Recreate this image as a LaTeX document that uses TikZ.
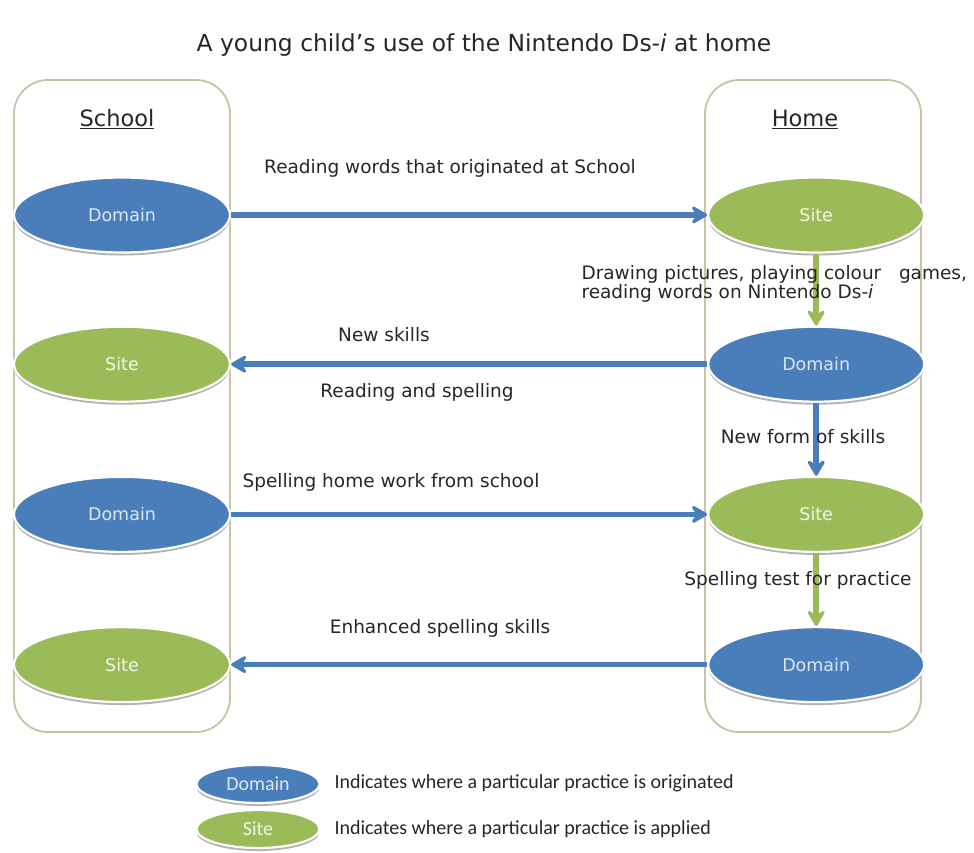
\documentclass[tikz,border=0pt]{standalone}
\usepackage{fontspec}
\setmainfont{DejaVu Sans}
\newfontfamily\legendfont{Carlito}
\usetikzlibrary{shapes.geometric, positioning, arrows.meta, shadows}
\definecolor{domainblue}{HTML}{4A7EBB}
\definecolor{sitegreen}{HTML}{9BBB59}
\definecolor{boxtan}{HTML}{C9C2A6}
\definecolor{textgray}{HTML}{262626}
\definecolor{domaintext}{HTML}{DCE6F2}
\definecolor{sitetext}{HTML}{F2F6E8}

\begin{document}
\begin{tikzpicture}[
            x=1pt, y=-1pt,
            node distance=72pt and 476pt,
            every node/.style={font=\fontsize{18.5}{17}\selectfont, text=textgray},
            % Estilos de los bloques
            place/.style={rectangle, rounded corners=34pt, minimum width=216pt, minimum height=652pt, draw=boxtan, line width=1.8pt},
            heading/.style={font=\fontsize{22.5}{26}\selectfont},
            domainnode/.style={ellipse, minimum width=216pt, minimum height=75pt, inner sep=0pt, draw=white, line width=2.2pt, fill=domainblue, text=domaintext, font=\fontsize{17.5}{20}\selectfont, drop shadow={shadow xshift=0pt, shadow yshift=-3pt, fill=black!30, opacity=1}},
            sitenode/.style={domainnode, fill=sitegreen, text=sitetext},
            keydomain/.style={domainnode, minimum width=123pt, minimum height=38pt, font=\legendfont\fontsize{20}{22}\selectfont},
            keysite/.style={keydomain, fill=sitegreen, text=sitetext},
            keytext/.style={anchor=west, font=\legendfont\fontsize{20}{22}\selectfont},
            barrow/.style={line width=5.5pt, draw=domainblue, -{Stealth[length=20pt, width=23pt, inset=8pt, round]}},
            garrow/.style={barrow, draw=sitegreen}
        ]
            \useasboundingbox (0,0) rectangle (974,852);

            % Titulo
            \node (title) [font=\fontsize{23.4}{26}\selectfont] at (484,45) {A young child's use of the Nintendo Ds-\textit{i} at home};

            % Columnas
            \node (school) [place] at (122,406) {};
            \node (home) [place] at (813,406) {};
            \node (schoolhead) [heading] at (117,119) {\underline{School}};
            \node (homehead) [heading] at (805,119) {\underline{Home}};

            % Elipses
            \node (sd1) [domainnode] at (122,215) {Domain};
            \node (ss2) [sitenode, below=of sd1] {Site};
            \node (sd3) [domainnode, below=73pt of ss2] {Domain};
            \node (ss4) [sitenode, below=73pt of sd3] {Site};

            \node (hs1) [sitenode, right=of sd1] {Site};
            \node (hd2) [domainnode, right=of ss2] {Domain};
            \node (hs3) [sitenode, right=of sd3] {Site};
            \node (hd4) [domainnode, right=of ss4] {Domain};

            % Conexiones (Flechas)
            \draw [barrow] (sd1) -- (hs1);
            \draw [barrow] (hd2) -- (ss2);
            \draw [barrow] (sd3) -- (hs3);
            \draw [barrow] (hd4) -- (ss4);

            \draw [garrow] (hs1) -- (hd2);
            \draw [barrow] (hd2) -- (hs3);
            \draw [garrow] (hs3) -- (hd4);

            % Etiquetas
            \node (l1) at (450,168) {Reading words that originated at School};
            \node (l2) [anchor=west, align=left] at (578,284) {Drawing pictures, playing colour\ \ \ games,\\reading words on Nintendo Ds-\textit{i}};
            \node (l3) at (384,335) {New skills};
            \node (l4) at (417,392) {Reading and spelling};
            \node (l5) at (803,437) {New form of skills};
            \node (l6) at (391,482) {Spelling home work from school};
            \node (l7) at (798,580) {Spelling test for practice};
            \node (l8) at (440,628) {Enhanced spelling skills};

            % Leyenda
            \node (keyd) [keydomain] at (258,784) {Domain};
            \node (keys) [keysite] at (258,829) {Site};
            \node (keydtext) [keytext] at (331,783) {Indicates where a particular practice is originated};
            \node (keystext) [keytext] at (331,829) {Indicates where a particular practice is applied};

        \end{tikzpicture}
\end{document}
